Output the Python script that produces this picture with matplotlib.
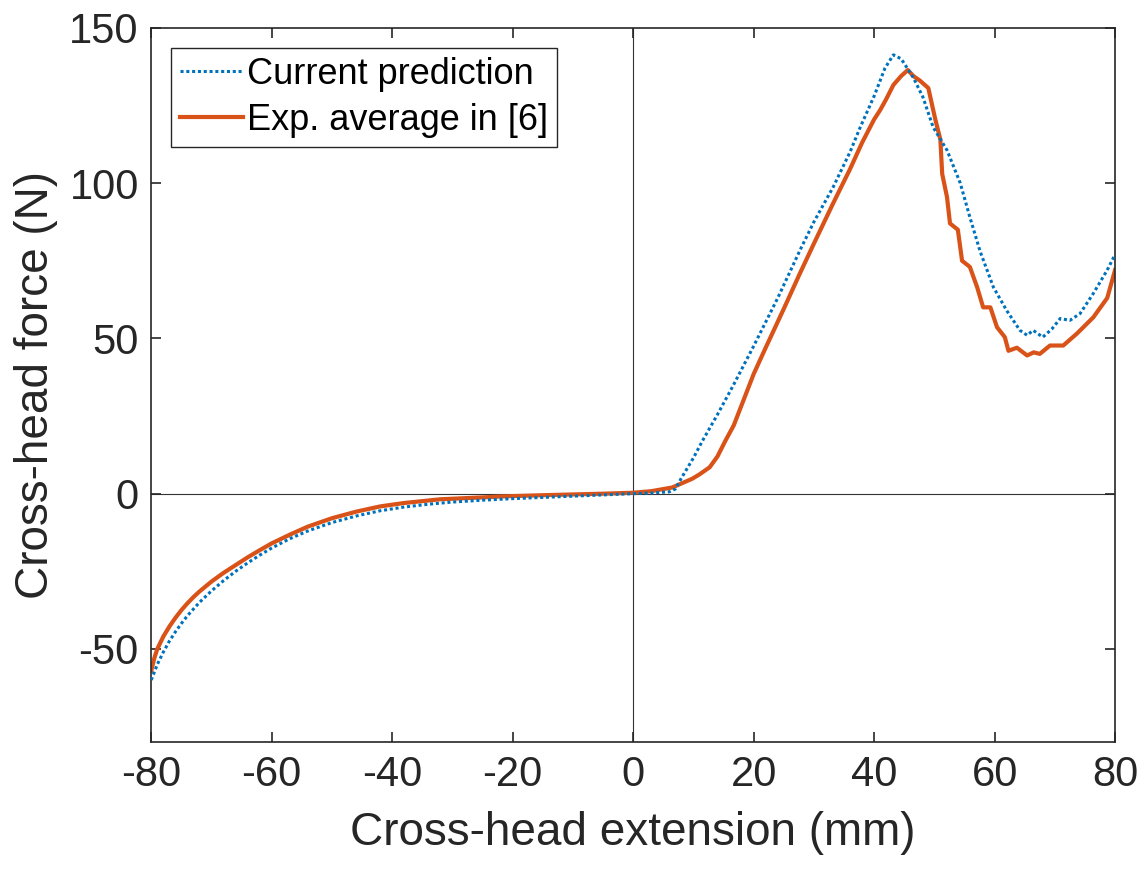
import numpy as np
import matplotlib
matplotlib.use('Agg')
import matplotlib.pyplot as plt

# Current prediction (blue, dotted)
pred_x = [-80, -79, -78, -77, -76, -75, -74, -72, -70, -68, -66, -64, -62, -60, -57, -54, -50,
          -46, -42, -38, -34, -30, -25, -20, -15, -10, -5, 0, 3, 6, 7, 8, 10, 11.5, 14, 16.6,
          20, 24, 27.7, 30, 33.2, 36, 37.7, 40, 41.8, 43.2, 44.5, 46.5, 48.1, 49.8, 52.1,
          54.3, 55.9, 57.6, 59.8, 62, 64.2, 65.4, 66.4, 68, 69.5, 70.9, 72.5, 74.2, 76.4,
          78.7, 80]
pred_y = [-60, -55, -51, -47.5, -44.5, -41.8, -39.3, -35, -31.3, -28, -25, -22.3, -19.8, -17.5,
          -14.5, -12, -9.3, -7.2, -5.5, -4.3, -3.4, -2.7, -2.1, -1.6, -1.2, -0.8, -0.4, 0, 0.2,
          0.6, 1.5, 5, 11.5, 17, 25.5, 34.8, 47.5, 63, 78.4, 87.5, 98.7, 110, 118, 128, 137,
          141.3, 140, 134, 127.7, 118, 110.6, 100, 89, 78, 66.5, 59, 52.6, 51, 52.6, 50.4, 53,
          56.4, 55.8, 58, 64.5, 72, 77]

# Experimental average (red, solid)
exp_x = [-80, -79.5, -79, -78, -77, -76, -75, -74, -73, -72, -70, -68, -66, -64, -62, -60,
         -57, -54, -50, -46, -42, -38, -32, -25, -22, -15, -10, -5, 0, 3, 6.5, 9.8, 11, 12.7,
         14, 15.3, 16.7, 18.3, 20, 22, 25, 27.7, 30, 33.2, 36, 38, 40, 41, 42, 43.2, 44.5,
         45.6, 46.5, 47.6, 49, 50.1, 51, 51.3, 52.1, 52.6, 53.9, 54.6, 55.9, 57.1, 58.1, 59.3,
         60.4, 61.7, 62.3, 63.7, 65.4, 66.5, 67.5, 69.2, 71.4, 73.7, 76.4, 78.7, 80]
exp_y = [-57, -53, -50, -46, -42.8, -40, -37.5, -35.3, -33.3, -31.5, -28.3, -25.5, -23, -20.5,
         -18.2, -16, -13.2, -10.6, -7.9, -5.8, -4.1, -3.0, -1.8, -1.2, -0.9, -0.5, -0.25, 0,
         0.3, 0.8, 2, 4.8, 6.2, 8.5, 12, 17, 22, 30, 38.5, 47, 59.5, 71, 80.5, 93.5, 104.5,
         113, 120.5, 123.5, 127, 131.6, 134.5, 136.4, 134.5, 133, 130.6, 121, 114, 103, 95.5,
         87, 85, 75, 73, 66.5, 60, 60, 53.6, 50.4, 46, 47, 44.5, 45.5, 45, 47.7, 47.7, 51.6,
         56.8, 63, 72]

xticks = [-80, -60, -40, -20, 0, 20, 40, 60, 80]
yticks = [-50, 0, 50, 100, 150]

txt = '#262626'
plt.rcParams['font.family'] = ['Liberation Sans', 'DejaVu Sans']
plt.rcParams['axes.unicode_minus'] = False

fig = plt.figure(figsize=(11.46, 8.69), dpi=100)
ax = fig.add_axes([0.132, 0.146, 0.841, 0.822])

ax.axhline(0, color='#333333', lw=0.8, zorder=1)
ax.axvline(0, color='#333333', lw=0.8, zorder=1)

ax.plot(pred_x, pred_y, color='#0072BD', lw=2.2, linestyle=(0, (1.0, 0.9)),
        label='Current prediction', zorder=3)
ax.plot(exp_x, exp_y, color='#D95319', lw=3.0, label='Exp. average in [6]', zorder=2)

ax.set_xlim(-80, 80)
ax.set_ylim(-80, 150)
ax.set_xticks(xticks)
ax.set_yticks(yticks)
ax.tick_params(direction='in', length=7, width=1.2, top=True, right=True,
               colors=txt, labelsize=30, pad=9)
for s in ax.spines.values():
    s.set_color(txt)
    s.set_linewidth(1.2)

ax.set_xlabel('Cross-head extension (mm)', color=txt, fontsize=33, labelpad=12)
ax.set_ylabel('Cross-head force (N)', color=txt, fontsize=33, labelpad=8)

leg = ax.legend(loc='upper left', fontsize=26, handlelength=1.75, handletextpad=0.1,
                borderpad=0.25, borderaxespad=0.55, labelspacing=0.3, fancybox=False,
                framealpha=1)
leg.get_frame().set_edgecolor(txt)
leg.get_frame().set_linewidth(1.0)
for t in leg.get_texts():
    t.set_color('black')

fig.savefig('out.png', dpi=100)
